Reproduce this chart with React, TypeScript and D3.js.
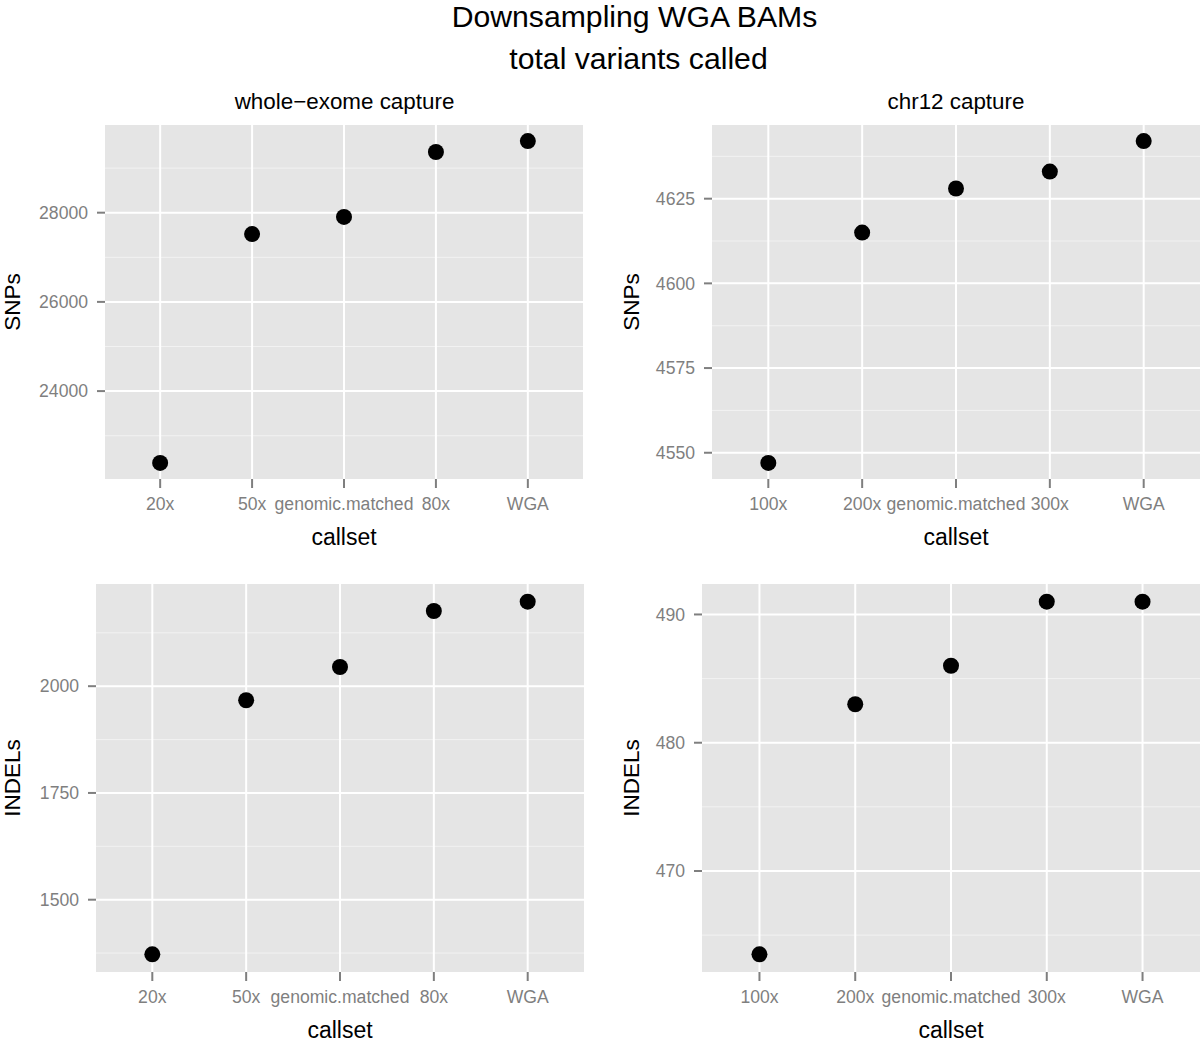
import React from "react";
import * as d3 from "d3";

const categoriesExome = ["20x", "50x", "genomic.matched", "80x", "WGA"];
const categoriesChr12 = ["100x", "200x", "genomic.matched", "300x", "WGA"];
const snpsExome = [22390, 27520, 27905, 29360, 29605];
const snpsChr12 = [4547, 4615, 4628, 4633, 4642];
const indelsExome = [1372, 1967, 2045, 2176, 2198];
const indelsChr12 = [463.5, 483, 486, 491, 491];

const ticksSnpsExome = [24000, 26000, 28000];
const ticksSnpsChr12 = [4550, 4575, 4600, 4625];
const ticksIndelsExome = [1500, 1750, 2000];
const ticksIndelsChr12 = [470, 480, 490];

const titleLines = ["Downsampling WGA BAMs", "total variants called"];
const facetTitles = ["whole\u2212exome capture", "chr12 capture"];

const FONT = "'Liberation Sans', Arial, Helvetica, sans-serif";
const GREY = "#7f7f7f";

type PanelProps = {
  x0: number; x1: number; y0: number; y1: number;
  cats: string[]; values: number[]; ticks: number[];
  yLabel: string; yLabelX: number; xLabelY: number;
};

function Panel({ x0, x1, y0, y1, cats, values, ticks, yLabel, yLabelX, xLabelY }: PanelProps) {
  const x = d3.scalePoint<string>().domain(cats).range([x0, x1]).padding(0.6);
  const [mn, mx] = d3.extent(values) as [number, number];
  const pad = (mx - mn) * 0.05;
  const y = d3.scaleLinear().domain([mn - pad, mx + pad]).range([y1, y0]);
  const step = ticks[1] - ticks[0];
  const minor: number[] = [];
  for (let v = ticks[0] - step / 2; v <= mx + pad; v += step) {
    if (v >= mn - pad && !ticks.includes(v)) minor.push(v);
  }
  const cx = (x0 + x1) / 2;
  const cy = (y0 + y1) / 2;
  return (
    <g>
      <rect x={x0} y={y0} width={x1 - x0} height={y1 - y0} fill="#e5e5e5" />
      {minor.map((v) => (
        <line key={"mi" + v} x1={x0} x2={x1} y1={y(v)} y2={y(v)} stroke="#f2f2f2" strokeWidth={1} />
      ))}
      {ticks.map((v) => (
        <line key={"ma" + v} x1={x0} x2={x1} y1={y(v)} y2={y(v)} stroke="#ffffff" strokeWidth={2} />
      ))}
      {cats.map((c) => (
        <line key={"mx" + c} x1={x(c)} x2={x(c)} y1={y0} y2={y1} stroke="#ffffff" strokeWidth={2} />
      ))}
      {values.map((v, i) => (
        <circle key={"p" + i} cx={x(cats[i])} cy={y(v)} r={8} fill="#000" />
      ))}
      {ticks.map((v) => (
        <g key={"yt" + v}>
          <line x1={x0 - 8} x2={x0} y1={y(v)} y2={y(v)} stroke={GREY} strokeWidth={2} />
          <text x={x0 - 17} y={y(v)} dy="0.35em" textAnchor="end" fontSize={17.6} fill={GREY} fontFamily={FONT}>
            {v}
          </text>
        </g>
      ))}
      {cats.map((c) => (
        <g key={"xt" + c}>
          <line x1={x(c)} x2={x(c)} y1={y1} y2={y1 + 9} stroke={GREY} strokeWidth={2} />
          <text x={x(c)} y={y1 + 31} textAnchor="middle" fontSize={17.6} fill={GREY} fontFamily={FONT}>
            {c}
          </text>
        </g>
      ))}
      <text x={cx} y={xLabelY} textAnchor="middle" fontSize={23} fill="#000" fontFamily={FONT}>
        callset
      </text>
      <text
        transform={`translate(${yLabelX},${cy}) rotate(-90)`}
        textAnchor="middle"
        fontSize={22.5}
        fill="#000"
        fontFamily={FONT}
      >
        {yLabel}
      </text>
    </g>
  );
}

export default function App() {
  return (
    <svg
      width={1200}
      height={1043}
      style={{ position: "absolute", left: 0, top: 0, background: "#fff" }}
    >
      <rect x={0} y={0} width={1200} height={1043} fill="#fff" />
      <text x={634.5} y={27} textAnchor="middle" fontSize={30.2} fontFamily={FONT} fill="#000">
        {titleLines[0]}
      </text>
      <text x={638.5} y={69} textAnchor="middle" fontSize={30.2} fontFamily={FONT} fill="#000">
        {titleLines[1]}
      </text>
      <text x={344.5} y={109} textAnchor="middle" fontSize={22.4} fontFamily={FONT} fill="#000">
        {facetTitles[0]}
      </text>
      <text x={956} y={109} textAnchor="middle" fontSize={22.4} fontFamily={FONT} fill="#000">
        {facetTitles[1]}
      </text>
      <Panel x0={105} x1={583} y0={125} y1={479} cats={categoriesExome} values={snpsExome}
        ticks={ticksSnpsExome} yLabel="SNPs" yLabelX={20} xLabelY={545} />
      <Panel x0={712} x1={1200} y0={125} y1={479} cats={categoriesChr12} values={snpsChr12}
        ticks={ticksSnpsChr12} yLabel="SNPs" yLabelX={639} xLabelY={545} />
      <Panel x0={96} x1={584} y0={584} y1={972} cats={categoriesExome} values={indelsExome}
        ticks={ticksIndelsExome} yLabel="INDELs" yLabelX={20} xLabelY={1038} />
      <Panel x0={702} x1={1200} y0={584} y1={972} cats={categoriesChr12} values={indelsChr12}
        ticks={ticksIndelsChr12} yLabel="INDELs" yLabelX={639} xLabelY={1038} />
    </svg>
  );
}
